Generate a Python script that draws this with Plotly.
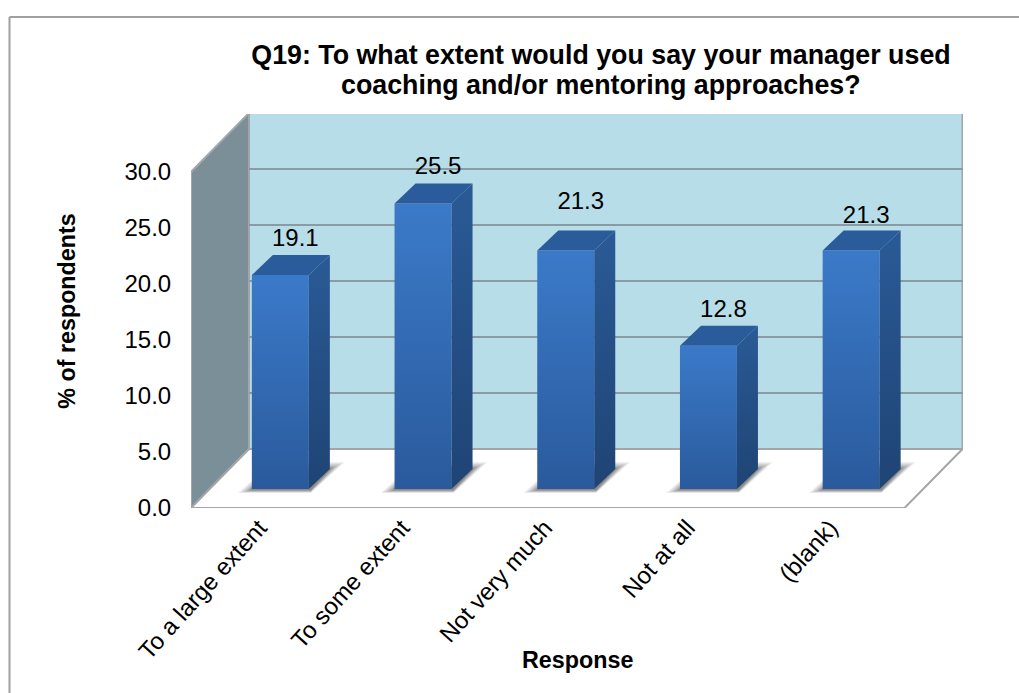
import plotly.graph_objects as go

categories = ["To a large extent", "To some extent", "Not very much", "Not at all", "(blank)"]
values = [19.1, 25.5, 21.3, 12.8, 21.3]
label_lift_px = [0, 0, 12, 0, -2]
y_ticks = [0, 5, 10, 15, 20, 25, 30]
title_line1 = "Q19: To what extent would you say your manager used"
title_line2 = "coaching and/or mentoring approaches?"
x_title = "Response"
y_title = "% of respondents"

W, H = 1019, 693
L, R, T, B = 191, 963, 114, 508      # plot area, px
CAT_PX, VAL_PX = 142.7, 11.2         # px per category, px per unit
WALL_DX, WALL_DY = 58 / CAT_PX, 59 / VAL_PX   # depth of the box, in data units
BAR_DX, BAR_DY = 21 / CAT_PX, 20 / VAL_PX     # depth of one bar
BAR_W = 57 / CAT_PX
BAR_SHIFT = 18 / CAT_PX
FLOOR_Y = 19 / VAL_PX
LABEL_GAP = 35 / VAL_PX
X0, X1 = -0.5, 4.5
Y_TOP = 30
EDGE = "#a3a6a8"
GRID = "#8b9ba3"

fig = go.Figure()


def poly(xs, ys, color=None, line=None, width=0, grad=None):
    kw = dict(x=xs + xs[:1], y=ys + ys[:1], mode="lines", fill="toself",
              line=dict(color=line or "rgba(0,0,0,0)", width=width),
              hoverinfo="skip", showlegend=False)
    if grad:
        kw["fillgradient"] = dict(type="vertical", colorscale=[[0, grad[0]], [1, grad[1]]])
        kw["fillcolor"] = grad[1]
    else:
        kw["fillcolor"] = color
    fig.add_trace(go.Scatter(**kw))


# back wall
poly([X0 + WALL_DX, X1 + WALL_DX, X1 + WALL_DX, X0 + WALL_DX],
     [WALL_DY, WALL_DY, Y_TOP + WALL_DY, Y_TOP + WALL_DY], color="#b7dde8", line=EDGE, width=2)
# side wall
poly([X0, X0 + WALL_DX, X0 + WALL_DX, X0],
     [0, WALL_DY, Y_TOP + WALL_DY, Y_TOP], color="#7b8f98", line=EDGE, width=2)
# floor
poly([X0, X1, X1 + WALL_DX, X0 + WALL_DX],
     [0, 0, WALL_DY, WALL_DY], color="#ffffff", line=EDGE, width=2)
# gridlines on the back wall
for t in y_ticks[1:-1]:
    fig.add_trace(go.Scatter(x=[X0 + WALL_DX, X1 + WALL_DX], y=[t + WALL_DY, t + WALL_DY], mode="lines",
                             line=dict(color=GRID, width=2), hoverinfo="skip", showlegend=False))

# soft floor shadows behind the bars
for i in range(len(values)):
    cx = i + BAR_SHIFT
    l0, r0 = cx - BAR_W / 2, cx + BAR_W / 2
    for s, alpha in [(1.0, 0.08), (0.85, 0.08), (0.7, 0.1), (0.55, 0.12), (0.4, 0.14), (0.25, 0.16), (0.1, 0.2)]:
        ft = FLOOR_Y - (1 + 3 * s) / VAL_PX
        bk = FLOOR_Y + (20 + 7 * s) / VAL_PX
        poly([l0 - s * 14 / CAT_PX, r0 + 2 / CAT_PX, r0 + BAR_DX + s * 15 / CAT_PX, l0 + BAR_DX],
             [ft, ft, bk, bk], color=f"rgba(70,70,70,{alpha})")

# front faces: real bars, then their shading
fig.add_trace(go.Bar(x=[i + BAR_SHIFT for i in range(len(values))], y=values, base=FLOOR_Y, width=BAR_W,
                     marker=dict(color="#3169b0", line=dict(width=0)), hovertext=categories,
                     hoverinfo="text+y", showlegend=False))
for i, v in enumerate(values):
    l = i + BAR_SHIFT - BAR_W / 2
    r = l + BAR_W
    top = FLOOR_Y + v
    # front gradient
    poly([l, r, r, l], [FLOOR_Y, FLOOR_Y, top, top], grad=("#2a5a9c", "#3b7ac9"))
    # right side
    poly([r, r + BAR_DX, r + BAR_DX, r], [FLOOR_Y, FLOOR_Y + BAR_DY, top + BAR_DY, top],
         grad=("#1f4474", "#2a5a96"))
    # top
    poly([l, r, r + BAR_DX, l + BAR_DX], [top, top, top + BAR_DY, top + BAR_DY], color="#2a5c9c")

# value labels
fig.add_trace(go.Scatter(x=[i + BAR_SHIFT + 15 / CAT_PX for i in range(len(values))],
                         y=[FLOOR_Y + v + LABEL_GAP + d / VAL_PX for v, d in zip(values, label_lift_px)],
                         text=[f"{v:.1f}" for v in values], mode="text", textposition="middle center",
                         textfont=dict(family="Liberation Sans", size=24, color="#000000"),
                         hoverinfo="skip", showlegend=False))

# frame around the chart
fig.add_shape(type="line", xref="paper", yref="paper", x0=9.5 / W, x1=1.01, y0=1 - 17 / H, y1=1 - 17 / H,
              line=dict(color="#a0a0a0", width=2))
fig.add_shape(type="line", xref="paper", yref="paper", x0=9.5 / W, x1=9.5 / W, y0=1 - 17 / H, y1=-0.01,
              line=dict(color="#a0a0a0", width=2))

fig.add_annotation(text=f"<b>{title_line2}</b>", xref="paper", yref="paper", x=601 / W, y=1 - 85 / H,
                   xanchor="center", yanchor="middle", showarrow=False,
                   font=dict(family="Liberation Sans", size=26.8, color="#000000"))
fig.add_annotation(text=f"<b>{x_title}</b>", xref="paper", yref="paper", x=(L + R) / 2 / W, y=1 - 660 / H,
                   xanchor="center", yanchor="middle", showarrow=False,
                   font=dict(family="Liberation Sans", size=23.3, color="#000000"))

fig.update_layout(
    width=W, height=H, margin=dict(l=0, r=0, t=0, b=0), paper_bgcolor="#ffffff", plot_bgcolor="rgba(0,0,0,0)",
    font=dict(family="Liberation Sans", color="#000000"),
    showlegend=False, bargap=0,
    title=dict(text=title_line1, x=601 / W, xanchor="center", y=1 - 55 / H, yanchor="middle",
               font=dict(family="Liberation Sans", size=26.8, color="#000000", weight="bold")),
)
fig.update_xaxes(domain=[L / W, R / W], range=[X0, X0 + (R - L) / CAT_PX],
                 tickvals=[i - 3 / CAT_PX for i in range(len(categories))],
                 ticktext=categories, tickangle=-48, tickfont=dict(size=24), showgrid=False, zeroline=False,
                 showline=False, ticks="", fixedrange=True, automargin=False)
fig.update_yaxes(domain=[1 - B / H, 1 - T / H], range=[0, (B - T) / VAL_PX], tickvals=y_ticks,
                 ticktext=[f"{t:.1f}" for t in y_ticks], tickfont=dict(size=24), showgrid=False, zeroline=False,
                 showline=False, ticks="outside", ticklen=14, tickcolor="rgba(0,0,0,0)", fixedrange=True,
                 automargin=False,
                 title=dict(text=f"<b>{y_title}</b>", font=dict(size=23.3), standoff=42))

fig.write_html("out.html", config=dict(displayModeBar=False),
               post_script="document.body.style.margin='0';")
